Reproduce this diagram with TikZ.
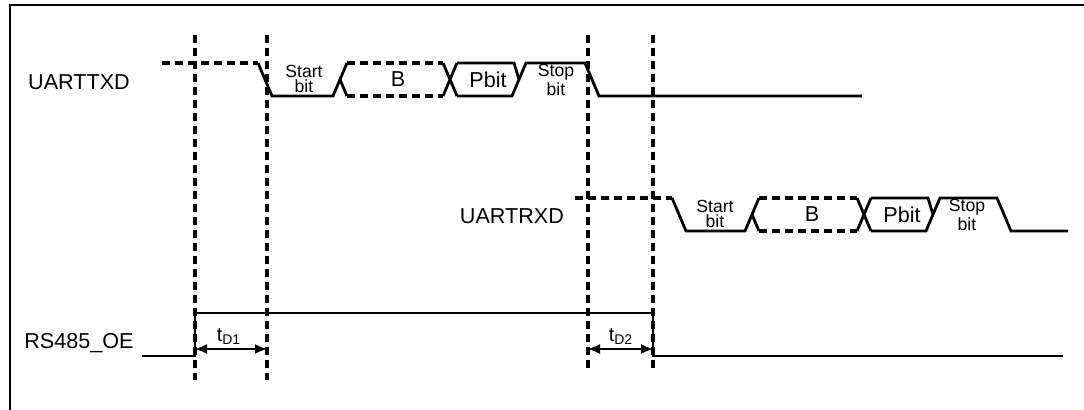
\documentclass[tikz,border=0pt]{standalone}
\usepackage{fontspec}
\setmainfont{Liberation Sans}
\usetikzlibrary{arrows.meta, positioning}

\begin{document}
\begin{tikzpicture}[x=0.5pt, y=-0.5pt, line width=1.4pt,
    dsh/.style={dash pattern=on 4pt off 2.5pt, line width=1.6pt},
    lbl/.style={font=\fontsize{10.8}{12}\selectfont, inner sep=0pt},
    bitlbl/.style={font=\fontsize{8.8}{7.5}\selectfont, align=center, inner sep=0pt},
    dim/.style={{Latex[length=6pt,width=5pt]}-{Latex[length=6pt,width=5pt]}, line width=0.7pt}]
            \useasboundingbox (0,0) rectangle (1084,410);

            % Frame
            \draw (1084,5) -- (10,5) -- (10,410);

            % Timing markers
            \draw[dsh] (195,35) -- (195,380);
            \draw[dsh] (267,35) -- (267,380);
            \draw[dsh] (588,35) -- (588,372);
            \draw[dsh] (653,35) -- (653,372);

            % UARTTXD
            \node[lbl] (txd) at (79,82) {UARTTXD};
            \draw[dsh] (162,63) -- (258,63);
            \draw (258,63) -- (272,96) -- (333,96) -- (347,63);
            \draw (340,79.5) -- (347,96);
            \draw[dsh] (347,63) -- (443,63);
            \draw[dsh] (347,96) -- (443,96);
            \draw (443,63) -- (457,96) (443,96) -- (457,63);
            \draw (457,63) -- (514,63) -- (519,79.5);
            \draw (457,96) -- (512,96) -- (526,63) -- (585,63) -- (599,96) -- (862,96);
            \node[bitlbl] (txstart) at (304,79) {Start\\bit};
            \node[lbl] (txb) at (398,79.5) {B};
            \node[lbl] (txp) at (488,79.5) {Pbit};
            \node[bitlbl] (txstop) at (556,80) {Stop\\bit};

            % UARTRXD
            \node[lbl] (rxd) at (512,216) {UARTRXD};
            \draw[dsh] (575,198) -- (672,198);
            \draw (672,198) -- (686,231) -- (745,231) -- (759,198);
            \draw (752,214.5) -- (759,231);
            \draw[dsh] (759,198) -- (857,198);
            \draw[dsh] (759,231) -- (857,231);
            \draw (857,198) -- (871,231) (857,231) -- (871,198);
            \draw (871,198) -- (928,198) -- (933,214.5);
            \draw (871,231) -- (926,231) -- (940,198) -- (997,198) -- (1011,231) -- (1068,231);
            \node[bitlbl] (rxstart) at (715,214) {Start\\bit};
            \node[lbl] (rxb) at (812,214.5) {B};
            \node[lbl] (rxp) at (902,214.5) {Pbit};
            \node[bitlbl] (rxstop) at (967,215) {Stop\\bit};

            % RS485_OE
            \node[lbl] (oe) at (79,343) {RS485\_OE};
            \draw (142,356) -- (195,356) -- (195,313) -- (653,313) -- (653,356) -- (1063,356);

            % Delays
            \coordinate (d1a) at (195,349);
            \coordinate (d1b) at (267,349);
            \coordinate (d2a) at (588,349);
            \coordinate (d2b) at (653,349);
            \draw[dim] (d1a) -- (d1b);
            \draw[dim] (d2a) -- (d2b);
            \node[font=\fontsize{10}{11}\selectfont, inner sep=0pt] (td1) at (229,337) {t\textsubscript{D1}};
            \node[font=\fontsize{10}{11}\selectfont, inner sep=0pt] (td2) at (621,337) {t\textsubscript{D2}};
\end{tikzpicture}
\end{document}
